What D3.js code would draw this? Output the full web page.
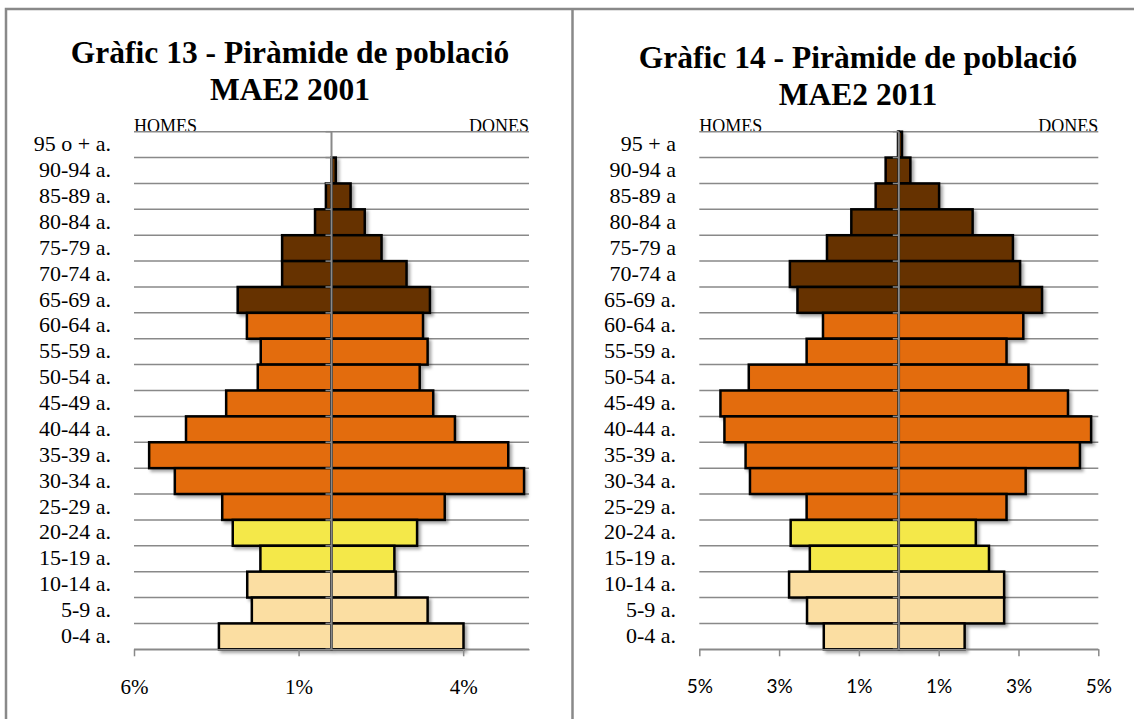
<!DOCTYPE html>
<html>
<head>
<meta charset="utf-8">
<script src="https://cdn.jsdelivr.net/npm/d3@7"></script>
<style>
  body { margin: 0; background: #fff; }
  svg { display: block; }
</style>
</head>
<body>
<script>
// age groups, top of the pyramid first
const ages2001 = ["95 o + a.", "90-94 a.", "85-89 a.", "80-84 a.", "75-79 a.", "70-74 a.", "65-69 a.",
  "60-64 a.", "55-59 a.", "50-54 a.", "45-49 a.", "40-44 a.", "35-39 a.", "30-34 a.", "25-29 a.",
  "20-24 a.", "15-19 a.", "10-14 a.", "5-9 a.", "0-4 a."];
const ages2011 = ["95 + a", "90-94 a", "85-89 a", "80-84 a", "75-79 a", "70-74 a", "65-69 a.",
  "60-64 a.", "55-59 a.", "50-54 a.", "45-49 a.", "40-44 a.", "35-39 a.", "30-34 a.", "25-29 a.",
  "20-24 a.", "15-19 a.", "10-14 a.", "5-9 a.", "0-4 a."];

// % of population
const homes2001 = [0, 0, 0.17, 0.5, 1.5, 1.5, 2.85, 2.57, 2.15, 2.24, 3.2, 4.42, 5.54, 4.76, 3.32, 3.0, 2.16, 2.56, 2.42, 3.42];
const dones2001 = [0, 0.13, 0.58, 1.01, 1.52, 2.28, 2.99, 2.78, 2.92, 2.68, 3.09, 3.75, 5.37, 5.85, 3.44, 2.6, 1.91, 1.95, 2.92, 4.01];
const homes2011 = [0.02, 0.33, 0.58, 1.19, 1.8, 2.73, 2.54, 1.9, 2.31, 3.76, 4.47, 4.37, 3.84, 3.73, 2.31, 2.71, 2.23, 2.75, 2.3, 1.88];
const dones2011 = [0.08, 0.29, 1.01, 1.85, 2.86, 3.04, 3.59, 3.12, 2.7, 3.25, 4.24, 4.82, 4.54, 3.18, 2.7, 1.93, 2.26, 2.64, 2.64, 1.65];

const ticks2001 = [-6, -1, 4];
const ticks2011 = [-5, -3, -1, 1, 3, 5];

const width = 1134;
const height = 719;
const grey = "#898989";
const serif = "'Liberation Serif', 'Times New Roman', serif";

// colour by lower bound of the age group
const color = d3.scaleThreshold()
    .domain([15, 25, 65])
    .range(["#fbdea2", "#f4e84a", "#e36c0a", "#663300"]);

const svg = d3.select("body").append("svg")
    .attr("width", width)
    .attr("height", height);

svg.append("defs")
  .append("filter")
    .attr("id", "shadow")
    .attr("x", "-10%").attr("y", "-10%")
    .attr("width", "130%").attr("height", "130%")
  .append("feDropShadow")
    .attr("dx", 2.5)
    .attr("dy", 2.5)
    .attr("stdDeviation", 1.6)
    .attr("flood-color", "#000")
    .attr("flood-opacity", 0.35);

// frame of the two panels
svg.append("path")
    .attr("d", `M6,${height}V9H${width} M572.5,9V${height}`)
    .attr("fill", "none")
    .attr("stroke", grey)
    .attr("stroke-width", 2.5);

function pyramid(opts) {
  const top = 131.7, bottom = 649.3;
  const x = d3.scaleLinear().domain(opts.domain).range(opts.xRange);
  const y = d3.scaleBand().domain(opts.ages).range([top, bottom]);
  const rows = opts.ages.map((a, i) => ({age: a, men: opts.men[i], women: opts.women[i]}));
  const bounds = opts.ages.map(a => y(a)).concat(bottom);

  const g = svg.append("g");

  const title = g.append("text")
      .attr("text-anchor", "middle")
      .attr("font-family", serif)
      .attr("font-weight", "bold")
      .attr("font-size", 31.5)
      .attr("fill", "#000");
  title.append("tspan").attr("x", opts.titleX).attr("y", opts.titleY).text(opts.title[0]);
  title.append("tspan").attr("x", opts.titleX).attr("y", opts.titleY + 37).text(opts.title[1]);

  g.append("text")
      .attr("x", x.range()[0])
      .attr("y", top)
      .attr("font-family", serif)
      .attr("font-size", 18)
      .text("HOMES");
  g.append("text")
      .attr("x", x.range()[1])
      .attr("y", top)
      .attr("text-anchor", "end")
      .attr("font-family", serif)
      .attr("font-size", 18)
      .text("DONES");

  // horizontal gridlines
  g.append("g")
      .attr("stroke", grey)
      .attr("stroke-width", 1.5)
    .selectAll("line")
    .data(bounds)
    .join("line")
      .attr("x1", x.range()[0])
      .attr("x2", x.range()[1])
      .attr("y1", d => d)
      .attr("y2", d => d);

  const bars = g.append("g")
      .attr("stroke", "#000")
      .attr("stroke-width", 2.5)
      .attr("filter", "url(#shadow)");

  bars.selectAll("rect.men")
    .data(rows.filter(d => d.men > 0))
    .join("rect")
      .attr("class", "men")
      .attr("x", d => x(-d.men))
      .attr("y", d => y(d.age))
      .attr("width", d => x(0) - x(-d.men))
      .attr("height", y.bandwidth())
      .attr("fill", d => color(parseInt(d.age)));

  bars.selectAll("rect.women")
    .data(rows.filter(d => d.women > 0))
    .join("rect")
      .attr("class", "women")
      .attr("x", x(0))
      .attr("y", d => y(d.age))
      .attr("width", d => x(d.women) - x(0))
      .attr("height", y.bandwidth())
      .attr("fill", d => color(parseInt(d.age)));

  // category axis down the middle
  g.append("line")
      .attr("x1", x(0)).attr("x2", x(0))
      .attr("y1", top).attr("y2", bottom)
      .attr("stroke", grey)
      .attr("stroke-width", 2);
  g.append("g")
      .attr("stroke", grey)
      .attr("stroke-width", 1.5)
    .selectAll("line")
    .data(bounds)
    .join("line")
      .attr("x1", x(0) - 6).attr("x2", x(0))
      .attr("y1", d => d).attr("y2", d => d);

  g.append("g")
      .attr("font-family", serif)
      .attr("font-size", 22)
      .attr("text-anchor", "end")
    .selectAll("text")
    .data(opts.ages)
    .join("text")
      .attr("x", opts.labelX)
      .attr("y", d => y(d) + y.bandwidth() / 2)
      .attr("dy", "0.3em")
      .text(d => d);

  const axis = g.append("g")
      .attr("transform", `translate(0,${bottom})`)
      .call(d3.axisBottom(x)
        .tickValues(opts.ticks)
        .tickSize(7)
        .tickSizeOuter(0)
        .tickFormat(d => Math.abs(d) + "%"));
  axis.select(".domain").attr("stroke", grey).attr("stroke-width", 1.5);
  axis.selectAll(".tick line").attr("stroke", grey).attr("stroke-width", 1.5);
  axis.selectAll(".tick text")
      .attr("y", 30)
      .attr("fill", "#000")
      .attr("font-family", opts.tickFont)
      .attr("font-size", opts.tickSize);
}

pyramid({
  title: ["Gràfic 13 - Piràmide de població", "MAE2 2001"],
  titleX: 290, titleY: 63,
  ages: ages2001, men: homes2001, women: dones2001,
  domain: [-6, 6], xRange: [134, 529], ticks: ticks2001,
  labelX: 111,
  tickFont: serif, tickSize: 21
});

pyramid({
  title: ["Gràfic 14 - Piràmide de població", "MAE2 2011"],
  titleX: 858, titleY: 68,
  ages: ages2011, men: homes2011, women: dones2011,
  domain: [-5, 5], xRange: [699.3, 1098.3], ticks: ticks2011,
  labelX: 676,
  tickFont: "Lato, 'Open Sans', sans-serif", tickSize: 19
});
</script>
</body>
</html>
